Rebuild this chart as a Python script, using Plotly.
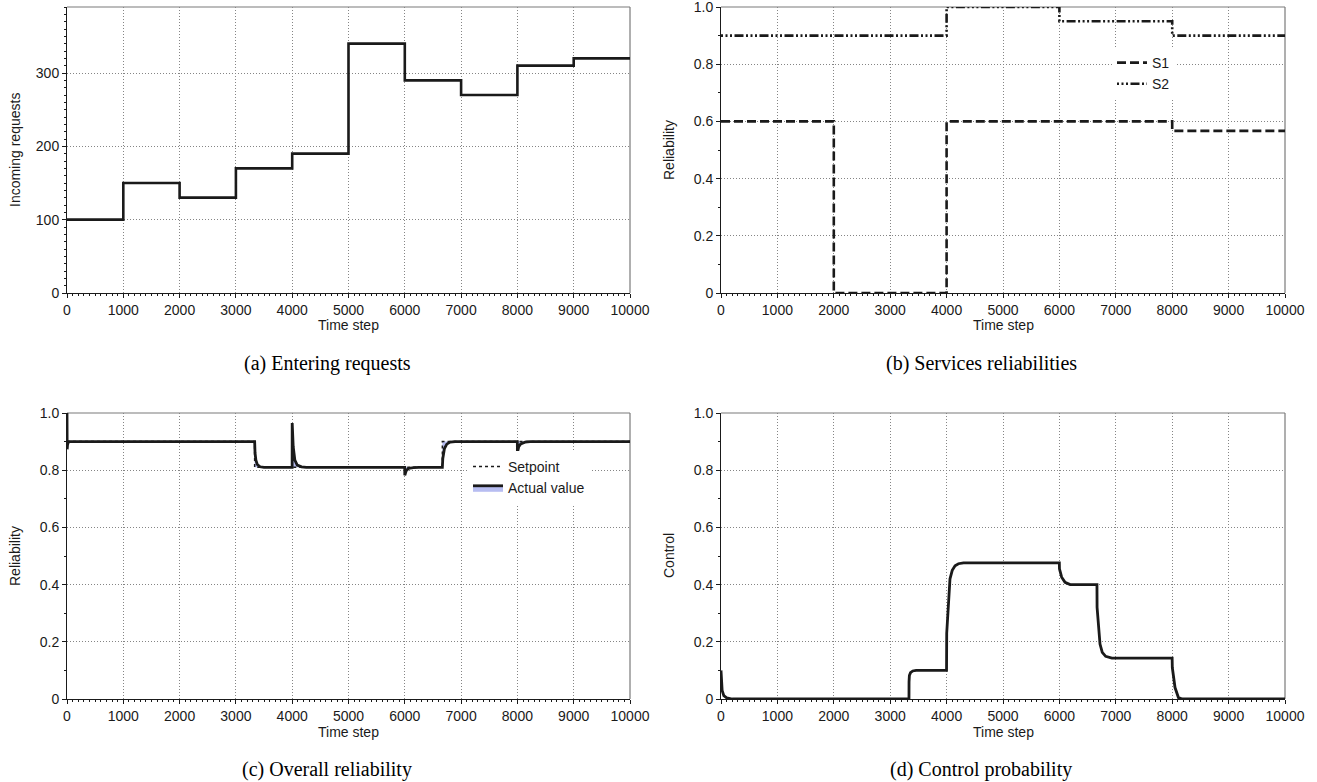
import plotly.graph_objects as go

# ---------------- data ----------------
# (a) incoming requests (step function)
req_t = [0, 1000, 2000, 3000, 4000, 5000, 6000, 7000, 8000, 9000, 10000]
req_v = [100, 150, 130, 170, 190, 340, 290, 270, 310, 320, 320]

# (b) services reliabilities (step functions)
s1_t = [0, 2000, 4000, 8000, 10000]
s1_v = [0.6, 0.0, 0.6, 0.567, 0.567]
s2_t = [0, 4000, 6000, 8000, 10000]
s2_v = [0.9, 1.0, 0.95, 0.9, 0.9]

# (c) overall reliability
sp_t = [0, 3333, 6667, 10000]
sp_v = [0.9, 0.81, 0.9, 0.9]
rel_t = [0, 3, 10, 30, 3333, 3340, 3355, 3380, 3430, 3500,
         3999, 4000, 4018, 4047, 4089, 4166, 4250,
         5999, 6000, 6024, 6065, 6154, 6250,
         6667, 6675, 6704, 6746, 6805, 6893,
         7999, 8000, 8024, 8059, 8136, 8225, 10000]
rel_v = [1.0, 0.873, 0.89, 0.9, 0.9, 0.86, 0.835, 0.82, 0.812, 0.81,
         0.81, 0.965, 0.882, 0.835, 0.818, 0.812, 0.81,
         0.81, 0.782, 0.798, 0.806, 0.809, 0.81,
         0.81, 0.841, 0.876, 0.891, 0.898, 0.9,
         0.9, 0.861, 0.882, 0.892, 0.898, 0.9, 0.9]

# (d) control probability
ctl_t = [0, 20, 50, 100, 200, 3333, 3334, 3340, 3360, 3400, 3460,
         3999, 4002, 4030, 4060, 4100, 4150, 4210, 4300,
         5999, 6001, 6040, 6100, 6190, 6300,
         6666, 6668, 6690, 6720, 6760, 6820, 6930,
         7999, 8002, 8050, 8110, 8180, 10000]
ctl_v = [0.1, 0.03, 0.012, 0.004, 0.0, 0.0, 0.06, 0.082, 0.092, 0.098, 0.1,
         0.1, 0.23, 0.34, 0.42, 0.45, 0.466, 0.473, 0.476,
         0.476, 0.455, 0.426, 0.408, 0.4, 0.4,
         0.4, 0.32, 0.25, 0.192, 0.163, 0.149, 0.143,
         0.143, 0.11, 0.04, 0.005, 0.0, 0.0]

x_ticks = [0, 1000, 2000, 3000, 4000, 5000, 6000, 7000, 8000, 9000, 10000]
x_ticklabels = [str(v) for v in x_ticks]
req_ticks = [0, 100, 200, 300]
rel_ticks = [0, 0.2, 0.4, 0.6, 0.8, 1.0]
rel_ticklabels = ["0", "0.2", "0.4", "0.6", "0.8", "1.0"]

captions = ["(a) Entering requests", "(b) Services reliabilities",
            "(c) Overall reliability", "(d) Control probability"]
y_titles = ["Incoming requests", "Reliability", "Reliability", "Control"]

# ---------------- layout geometry ----------------
W, H = 1317, 782
XL = [67 / W, 630 / W]
XR = [721 / W, 1285 / W]
YT = [(H - 293) / H, (H - 7) / H]
YB = [(H - 699) / H, (H - 413) / H]

SANS = "Liberation Sans, Arial, Helvetica, sans-serif"
SERIF = "Liberation Serif, Times New Roman, serif"
INK = "#1a1a1a"

fig = go.Figure()

fig.add_trace(go.Scatter(x=req_t, y=req_v, mode="lines", line_shape="hv",
                         line=dict(color=INK, width=2.6), showlegend=False,
                         xaxis="x", yaxis="y", cliponaxis=False))

fig.add_trace(go.Scatter(x=s1_t, y=s1_v, mode="lines", line_shape="hv", name="S1",
                         line=dict(color=INK, width=2.6, dash="9px,4px"),
                         xaxis="x2", yaxis="y2", legend="legend", cliponaxis=False))
fig.add_trace(go.Scatter(x=s2_t, y=s2_v, mode="lines", line_shape="hv", name="S2",
                         line=dict(color=INK, width=2.6, dash="2px,2.5px,2px,2.5px,2px,2.5px,9px,2.5px"),
                         xaxis="x2", yaxis="y2", legend="legend", cliponaxis=False))

fig.add_trace(go.Scatter(x=sp_t, y=sp_v, mode="lines", line_shape="hv", name="Setpoint",
                         line=dict(color=INK, width=1.5, dash="dot"),
                         xaxis="x3", yaxis="y3", legend="legend2"))
fig.add_trace(go.Scatter(x=rel_t, y=rel_v, mode="lines", name="Actual value",
                         line=dict(color=INK, width=2.8),
                         fill="tonexty", fillcolor="rgba(170,178,238,0.85)",
                         xaxis="x3", yaxis="y3", legend="legend2", cliponaxis=False))

fig.add_trace(go.Scatter(x=ctl_t, y=ctl_v, mode="lines",
                         line=dict(color=INK, width=2.8), showlegend=False,
                         xaxis="x4", yaxis="y4", cliponaxis=False))

common = dict(showline=True, linecolor=INK, linewidth=1, mirror=False,
              ticks="outside", ticklen=4, tickwidth=1, tickcolor=INK,
              showgrid=True, gridcolor="#858585", griddash="1px,2px", gridwidth=1,
              zeroline=False, tickfont=dict(family=SANS, size=14, color=INK),
              fixedrange=True, automargin=False, ticklabeloverflow="allow")

def xax(domain, anchor):
    return dict(common, domain=domain, anchor=anchor, range=[0, 10000],
                tickmode="array", tickvals=x_ticks, ticktext=x_ticklabels,
                minor=dict(ticks="outside", ticklen=2, tickwidth=1, tickcolor=INK,
                           dtick=100, tick0=0, showgrid=False))

def yax(domain, anchor, rng, tv, tt, mdt):
    return dict(common, domain=domain, anchor=anchor, range=rng,
                tickmode="array", tickvals=tv, ticktext=tt,
                minor=dict(ticks="outside", ticklen=2, tickwidth=1, tickcolor=INK,
                           dtick=mdt, tick0=0, showgrid=False))

fig.update_layout(
    template="none",
    width=W, height=H, autosize=False,
    margin=dict(l=0, r=0, t=0, b=0, pad=0),
    paper_bgcolor="white", plot_bgcolor="white",
    font=dict(family=SANS, size=14, color=INK),
    xaxis=xax(XL, "y"), yaxis=yax(YT, "x", [0, 390], req_ticks, [str(v) for v in req_ticks], 10),
    xaxis2=xax(XR, "y2"), yaxis2=yax(YT, "x2", [0, 1], rel_ticks, rel_ticklabels, 0.1),
    xaxis3=xax(XL, "y3"), yaxis3=yax(YB, "x3", [0, 1], rel_ticks, rel_ticklabels, 0.1),
    xaxis4=xax(XR, "y4"), yaxis4=yax(YB, "x4", [0, 1], rel_ticks, rel_ticklabels, 0.1),
    legend=dict(x=1112 / W, y=(H - 47) / H, xanchor="left", yanchor="top",
                bgcolor="white", borderwidth=0, font=dict(family=SANS, size=14, color=INK),
                itemwidth=30, tracegroupgap=0, traceorder="normal"),
    legend2=dict(x=468 / W, y=(H - 451) / H, xanchor="left", yanchor="top",
                 bgcolor="white", borderwidth=0, font=dict(family=SANS, size=14, color=INK),
                 itemwidth=30, tracegroupgap=0, traceorder="normal"),
)

# top / right frame lines (gray), drawn beneath the data lines
shapes = []
for xa, ya in [("x", "y"), ("x2", "y2"), ("x3", "y3"), ("x4", "y4")]:
    shapes.append(dict(type="line", xref=f"{xa} domain", yref=f"{ya} domain",
                       x0=0, x1=1, y0=1, y1=1, line=dict(color="#7a7a7a", width=1.2), layer="below"))
    shapes.append(dict(type="line", xref=f"{xa} domain", yref=f"{ya} domain",
                       x0=1, x1=1, y0=0, y1=1, line=dict(color="#7a7a7a", width=1.2), layer="below"))
fig.update_layout(shapes=shapes)

ann = []
cap_x = [327 / W, 981 / W, 327 / W, 981 / W]
cap_y = [(H - 363) / H, (H - 363) / H, (H - 769) / H, (H - 769) / H]
for txt, cx, cy in zip(captions, cap_x, cap_y):
    ann.append(dict(text=txt, x=cx, y=cy, xref="paper", yref="paper", showarrow=False,
                    xanchor="center", yanchor="middle",
                    font=dict(family=SERIF, size=20, color="black")))

xt_x = [(67 + 630) / 2 / W, (721 + 1285) / 2 / W]
xt_y = [(H - 325) / H, (H - 732) / H]
for cy in xt_y:
    for cx in xt_x:
        ann.append(dict(text="Time step", x=cx, y=cy, xref="paper", yref="paper",
                        showarrow=False, xanchor="center", yanchor="middle",
                        font=dict(family=SANS, size=14, color=INK)))

yt_x = [15 / W, 669 / W, 15 / W, 669 / W]
yt_y = [(H - 150) / H, (H - 150) / H, (H - 556) / H, (H - 556) / H]
for txt, cx, cy in zip(y_titles, yt_x, yt_y):
    ann.append(dict(text=txt, x=cx, y=cy, xref="paper", yref="paper", showarrow=False,
                    xanchor="center", yanchor="middle", textangle=-90,
                    font=dict(family=SANS, size=14, color=INK)))
fig.update_layout(annotations=ann)

fig.write_html("out.html", config={"displayModeBar": False, "staticPlot": True},
               post_script="document.body.style.margin='0';document.body.style.overflow='hidden';")
